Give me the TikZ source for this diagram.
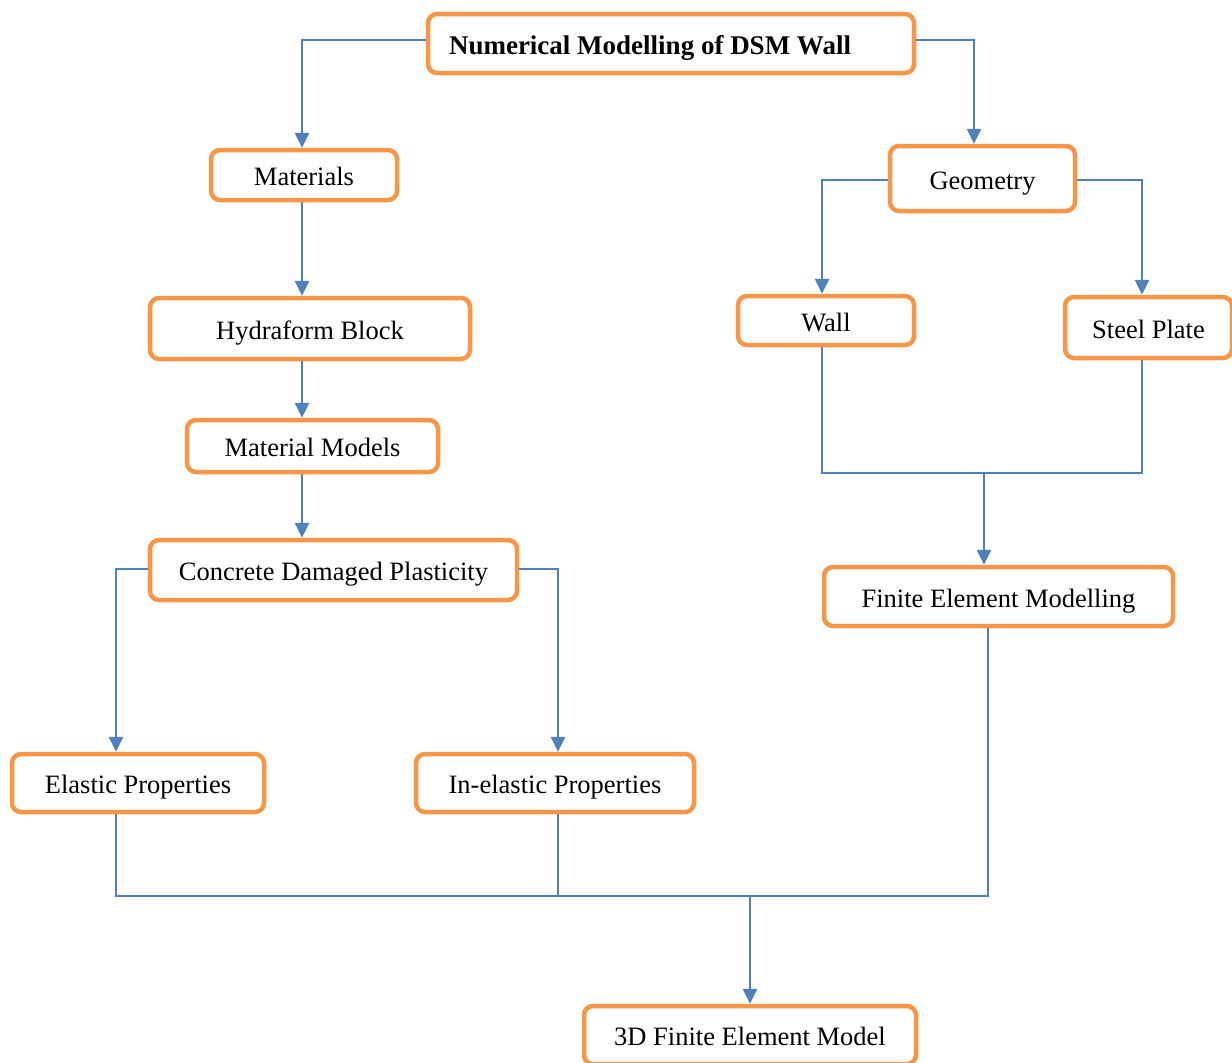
\documentclass[tikz,border=0pt]{standalone}
\usepackage{fontspec}
\setmainfont{Liberation Serif}
\usetikzlibrary{arrows.meta}
\definecolor{boxor}{HTML}{F79646}
\definecolor{lnblue}{HTML}{4F81BD}
\begin{document}
\begin{tikzpicture}[x=1pt,y=-1pt,
  box/.style={draw=boxor, line width=4.5pt, rounded corners=9pt, fill=white, inner sep=0pt,
    text height=23pt, text depth=2pt, font=\fontsize{26.5}{30}\selectfont},
  arr/.style={draw=lnblue, line width=2.6pt, -{Triangle[length=15pt,width=14pt]}},
  plain/.style={draw=lnblue, line width=1.6pt}]
\useasboundingbox (0,0) rectangle (1232,1063);
\node[box, minimum width=486pt, minimum height=59pt, font=\fontsize{27}{30}\selectfont\bfseries] (top) at (671,43.5) {Numerical Modelling of DSM Wall\hspace*{42pt}};
\node[box, minimum width=186pt, minimum height=50pt] (mat) at (304,175) {Materials};
\node[box, minimum width=320pt, minimum height=61pt] (hyd) at (310,328.5) {Hydraform Block};
\node[box, minimum width=251pt, minimum height=52pt] (mm) at (312.5,446) {Material Models};
\node[box, minimum width=367pt, minimum height=60pt] (cdp) at (333.5,570) {Concrete Damaged Plasticity};
\node[box, minimum width=252pt, minimum height=58pt] (ela) at (138,783) {Elastic Properties};
\node[box, minimum width=278pt, minimum height=58pt] (inel) at (555,783) {In-elastic Properties};
\node[box, minimum width=185pt, minimum height=65pt] (geo) at (982.5,178.5) {Geometry};
\node[box, minimum width=176pt, minimum height=49pt] (wall) at (826,320.5) {Wall};
\node[box, minimum width=167pt, minimum height=61pt] (steel) at (1148.5,327.5) {Steel Plate};
\node[box, minimum width=349pt, minimum height=59pt] (fem) at (998.5,596.5) {Finite Element Modelling};
\node[box, minimum width=332pt, minimum height=58pt] (d3) at (750,1035) {3D Finite Element Model};
\coordinate (c1) at (302,0);
\coordinate (c2) at (116,0);
\coordinate (c3) at (558,0);
\coordinate (c4) at (822,0);
\coordinate (c5) at (1142,0);
\coordinate (c6) at (974,0);
\coordinate (c7) at (984,0);
\coordinate (c8) at (988,0);
\coordinate (c9) at (750,0);
\coordinate (j) at (0,473);
\coordinate (b) at (0,896);
\draw[arr] ([yshift=3.5pt]top.west) -| (mat.north -| c1);
\draw[arr] ([yshift=3.5pt]top.east) -| (geo.north -| c6);
\draw[arr] (mat.south -| c1) -- (hyd.north -| c1);
\draw[arr] (hyd.south -| c1) -- (mm.north -| c1);
\draw[arr] (mm.south -| c1) -- (cdp.north -| c1);
\draw[arr] ([yshift=1pt]cdp.west) -| (ela.north -| c2);
\draw[arr] ([yshift=1pt]cdp.east) -| (inel.north -| c3);
\draw[arr] ([yshift=-1.5pt]geo.west) -| (wall.north -| c4);
\draw[arr] ([yshift=-1.5pt]geo.east) -| (steel.north -| c5);
\draw[plain] (wall.south -| c4) -- (c4 |- j) -- (c5 |- j) -- (steel.south -| c5);
\draw[arr] (c7 |- j) -- (fem.north -| c7);
\draw[plain] (ela.south -| c2) -- (c2 |- b) -- (c8 |- b) -- (fem.south -| c8);
\draw[plain] (inel.south -| c3) -- (c3 |- b);
\draw[arr] (c9 |- b) -- (d3.north -| c9);
\end{tikzpicture}
\end{document}
